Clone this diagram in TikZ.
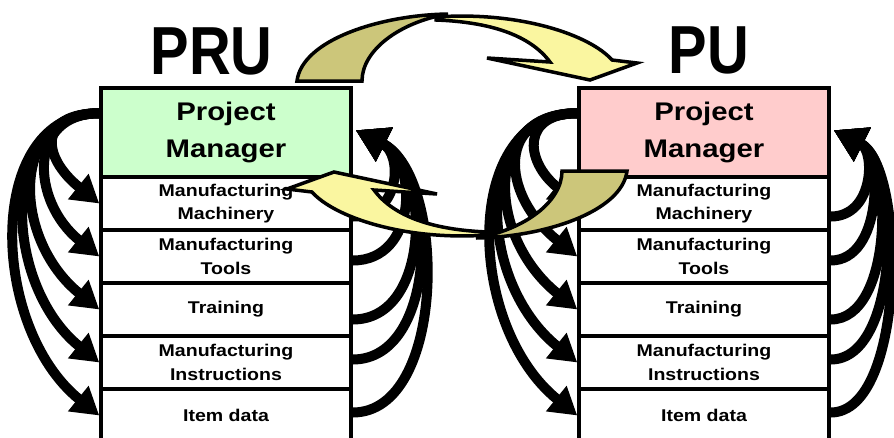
\documentclass[tikz,border=0pt]{standalone}
\usepackage{fontspec}
\setmainfont{Liberation Sans}[FakeStretch=1.15]
\newfontfamily\titlefont{Liberation Sans}[FakeStretch=0.85]
\usetikzlibrary{arrows.meta,calc}

\definecolor{pmgreen}{RGB}{204,255,204}
\definecolor{pmpink}{RGB}{255,204,204}
\definecolor{ribbonfront}{RGB}{250,246,160}
\definecolor{ribbonback}{RGB}{204,198,122}

\tikzset{
  cell/.style={draw=black, line width=3.5pt, fill=white,
    minimum width=250pt, minimum height=53pt, inner sep=0pt, align=center,
    font=\fontsize{17}{23.5}\selectfont\bfseries},
  pmcell/.style={cell, minimum height=89pt,
    font=\fontsize{25.5}{37}\selectfont\bfseries},
  title/.style={font=\titlefont\bfseries\fontsize{68}{68}\selectfont,
    inner sep=0pt, anchor=base},
  flow/.style={line width=10pt, -{Triangle[length=27pt,width=31pt]}},
  feedback/.style={line width=10pt, -{Triangle[length=32pt,width=36pt]}},
  ribbon/.style={draw=black, line width=3.5pt, line join=miter},
}

% curved hand-over arrow: darker back face, lighter front face with head
\newcommand\ribbonshape{%
  \filldraw[ribbon, fill=ribbonback]
    (297,81) .. controls (302,40) and (380,15) .. (448,14)
    .. controls (400,22) and (362,50) .. (362,81) -- cycle;
  \filldraw[ribbon, fill=ribbonfront]
    (436,17) .. controls (520,11) and (590,35) .. (612,60)
    -- (637,63) -- (590,80) -- (487,58) -- (550,62)
    .. controls (530,35) and (490,22) .. (436,20) -- cycle;
}

\begin{document}
\begin{tikzpicture}[x=1pt,y=-1pt]
\useasboundingbox (0,0) rectangle (894,437);
\clip (0,0) rectangle (894,437);
\fill[white] (0,0) rectangle (894,437);

% titles
\node[title] (pru) at (211.5,74) {PRU};
\node[title] (pu)  at (709,73)   {PU};

% two stacks of responsibilities
\foreach \s/\cx/\col in {L/226/pmgreen, R/704/pmpink}{
  \node[pmcell, fill=\col] (pm\s) at (\cx,132.5) {Project\\Manager};
  \node[cell] (mm\s) at (\cx,203.5) {Manufacturing\\Machinery};
  \node[cell] (mt\s) at (\cx,256.5) {Manufacturing\\Tools};
  \node[cell] (tr\s) at (\cx,309.5) {Training};
  \node[cell] (mi\s) at (\cx,362.5) {Manufacturing\\Instructions};
  \node[cell] (id\s) at (\cx,415.5) {Item data};
  \coordinate (s\s) at ([yshift=-27pt]pm\s.north west);
  \coordinate (t\s) at ([xshift=3pt,yshift=-44pt]pm\s.north east);
}

% manager hands work down to each item (left side)
\foreach \s/\r/\D in {L/mm/45, L/mt/53, L/tr/67, L/mi/75, L/id/85,
                      R/mm/41, R/mt/60, R/tr/70, R/mi/78, R/id/86}{
  \draw[flow] (s\s) .. controls ($(s\s)+(-1.35*\D,0)$)
    and ($(\r\s.west)+(-1.3*\D,-1.05*\D)$) .. (\r\s.west);
}

% each item reports back to the manager (right side)
\foreach \s/\r/\dy/\E in {L/mm/13/36, L/mt/4/48, L/tr/10/58, L/mi/-3/64, L/id/-3/70,
                          R/mm/13/32, R/mt/4/38, R/tr/10/46, R/mi/-3/52, R/id/-3/56}{
  \coordinate (b\s\r) at ([yshift=-\dy pt]\r\s.east);
  \draw[feedback] (b\s\r) .. controls ($(b\s\r)+(1.35*\E,0)$)
    and ($(t\s)+(1.3*\E,0.65*\E)$) .. (t\s);
}

% hand-over arrows between the two organisations
\ribbonshape
\begin{scope}[rotate around={180:(462,126)}]
  \ribbonshape
\end{scope}
\end{tikzpicture}
\end{document}
